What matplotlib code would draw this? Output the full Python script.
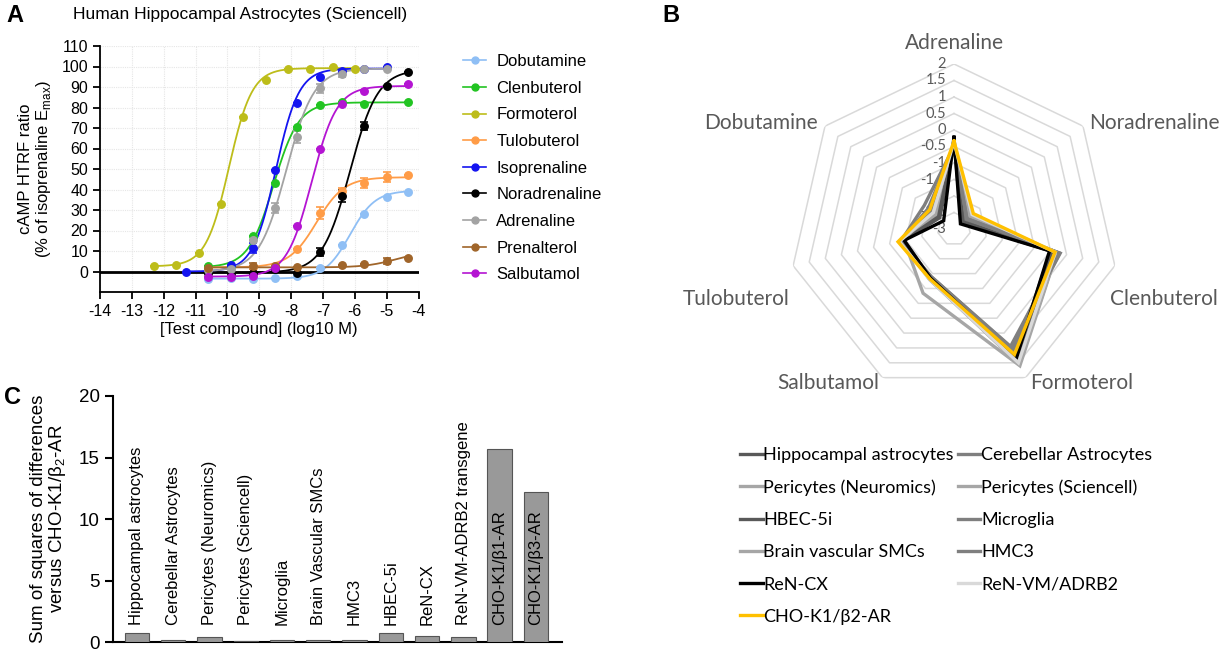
import numpy as np
import matplotlib
matplotlib.use("Agg")
import matplotlib.pyplot as plt
from matplotlib.lines import Line2D

plt.rcParams["axes.unicode_minus"] = False

# ---------------- Panel A data ----------------
compounds = ["Dobutamine", "Clenbuterol", "Formoterol", "Tulobuterol", "Isoprenaline",
             "Noradrenaline", "Adrenaline", "Prenalterol", "Salbutamol"]
colors_a = ["#8fbff5", "#22c422", "#bdbd1a", "#ff9c47", "#1414f0",
            "#000000", "#a3a3a3", "#a0652a", "#b414d2"]

dobutamine_x = [-10.6, -9.9, -9.2, -8.5, -7.8, -7.1, -6.4, -5.7, -5.0, -4.33]
dobutamine_y = [-3.7, -3.3, -3.7, -3.3, -2.4, 1.8, 12.7, 28.0, 36.2, 39.0]
dobutamine_e = [0, 0, 0, 0, 0, 0, 0, 0, 0, 0]

clenbuterol_x = [-10.6, -9.9, -9.2, -8.5, -7.8, -7.1, -6.4, -5.7, -4.33]
clenbuterol_y = [2.6, 2.6, 17.1, 43.2, 70.6, 81.2, 82.8, 81.8, 82.8]
clenbuterol_e = [0, 0, 0, 0, 0, 0, 0, 0, 0]

formoterol_x = [-12.3, -11.6, -10.9, -10.2, -9.5, -8.8, -8.1, -7.4, -6.7, -6.0]
formoterol_y = [2.6, 3.3, 9.1, 32.9, 75.6, 93.2, 98.6, 98.9, 99.8, 98.9]
formoterol_e = [0, 0, 0, 0, 0, 0, 0, 0, 0, 0]

tulobuterol_x = [-10.6, -9.2, -8.5, -7.8, -7.1, -6.4, -5.7, -5.0, -4.33]
tulobuterol_y = [1.0, 2.0, 2.6, 11.2, 28.5, 39.1, 43.2, 46.1, 46.9]
tulobuterol_e = [0, 0, 0, 0, 3.0, 1.5, 2.5, 2.5, 0]

isoprenaline_x = [-11.3, -9.9, -9.2, -8.5, -7.8, -7.1, -6.4, -5.7, -5.0]
isoprenaline_y = [0.0, 3.4, 11.6, 49.4, 82.0, 94.9, 97.8, 98.9, 99.8]
isoprenaline_e = [0, 0, 2.5, 0, 0, 0, 0, 0, 0]

noradrenaline_x = [-10.6, -9.9, -9.2, -8.5, -7.8, -7.1, -6.4, -5.7, -5.0, -4.33]
noradrenaline_y = [-0.8, -0.8, -0.8, 1.3, -0.8, 9.5, 36.7, 70.9, 90.5, 97.1]
noradrenaline_e = [0, 0, 0, 0, 0, 1.8, 3.0, 2.0, 0, 0]

adrenaline_x = [-10.6, -9.9, -9.2, -8.5, -7.8, -7.1, -6.4, -5.7, -5.0]
adrenaline_y = [0.5, 1.0, 15.2, 31.1, 65.7, 89.3, 96.3, 98.9, 99.0]
adrenaline_e = [0, 0, 0, 2.5, 3.0, 2.0, 1.5, 0, 0]

prenalterol_x = [-10.6, -9.2, -8.5, -7.8, -6.4, -5.7, -5.0, -4.33]
prenalterol_y = [1.6, 2.6, 2.6, 2.3, 3.4, 3.7, 5.0, 6.7]
prenalterol_e = [0, 1.5, 0, 0, 0, 0, 1.5, 0]

salbutamol_x = [-10.6, -9.9, -9.2, -8.5, -7.8, -7.1, -6.4, -5.7, -4.33]
salbutamol_y = [-2.5, -2.5, -2.2, 1.5, 22.0, 59.7, 81.5, 88.2, 91.3]
salbutamol_e = [0, 0, 0, 0, 0, 0, 0, 0, 0]

points_x = [dobutamine_x, clenbuterol_x, formoterol_x, tulobuterol_x, isoprenaline_x,
            noradrenaline_x, adrenaline_x, prenalterol_x, salbutamol_x]
points_y = [dobutamine_y, clenbuterol_y, formoterol_y, tulobuterol_y, isoprenaline_y,
            noradrenaline_y, adrenaline_y, prenalterol_y, salbutamol_y]
points_e = [dobutamine_e, clenbuterol_e, formoterol_e, tulobuterol_e, isoprenaline_e,
            noradrenaline_e, adrenaline_e, prenalterol_e, salbutamol_e]

# fitted 4-parameter logistic curves (bottom, top, logEC50, Hill slope)
fit_bottom = [-3.5, 2.0, 2.5, 2.0, 0.0, -0.5, 0.0, 2.0, -2.5]
fit_top = [39.5, 82.5, 99.2, 46.0, 99.0, 98.5, 99.0, 10.0, 90.5]
fit_logec50 = [-6.15, -8.55, -9.95, -7.2, -8.48, -6.15, -8.15, -4.7, -7.35]
fit_hill = [1.1, 1.1, 1.2, 1.0, 1.2, 1.0, 1.0, 0.9, 1.1]

# ---------------- Panel B data ----------------
radar_axes = ["Adrenaline", "Noradrenaline", "Clenbuterol", "Formoterol",
              "Salbutamol", "Tulobuterol", "Dobutamine"]
cell_lines = ["Hippocampal astrocytes", "Cerebellar Astrocytes", "Pericytes (Neuromics)",
              "Pericytes (Sciencell)", "HBEC-5i", "Microglia", "Brain vascular SMCs",
              "HMC3", "ReN-CX", "ReN-VM/ADRB2", "CHO-K1/β2-AR"]
cell_colors = ["#595959", "#7f7f7f", "#a6a6a6", "#a6a6a6", "#595959", "#7f7f7f",
               "#a6a6a6", "#7f7f7f", "#000000", "#d9d9d9", "#ffc000"]
hippocampal_vals = [-0.40, -2.70, 0.00, 1.30, -1.35, -1.40, -2.45]
cerebellar_vals = [-0.50, -2.55, 0.30, 0.95, -1.40, -1.35, -1.85]
pericytes_n_vals = [-0.45, -2.45, 0.20, 1.60, -0.84, -1.45, -2.30]
pericytes_s_vals = [-0.40, -2.40, 0.15, 1.50, -1.30, -1.40, -2.30]
hbec_vals = [-0.35, -2.65, 0.05, 1.40, -1.35, -1.45, -2.40]
microglia_vals = [-0.45, -2.50, 0.25, 1.10, -1.35, -1.40, -2.10]
smc_vals = [-0.40, -2.35, 0.20, 1.55, -1.30, -1.35, -2.20]
hmc3_vals = [-0.50, -2.50, 0.28, 1.00, -1.40, -1.35, -2.00]
rencx_vals = [-0.22, -2.75, -0.03, 1.35, -1.35, -1.45, -2.60]
renvm_vals = [-0.35, -2.30, 0.15, 1.50, -1.30, -1.30, -2.20]
cho_b2_vals = [-0.34, -2.25, 0.14, 1.22, -1.32, -1.26, -2.06]
radar_values = [hippocampal_vals, cerebellar_vals, pericytes_n_vals, pericytes_s_vals,
                hbec_vals, microglia_vals, smc_vals, hmc3_vals, rencx_vals,
                renvm_vals, cho_b2_vals]
radar_ticks = [-3, -2.5, -2, -1.5, -1, -0.5, 0, 0.5, 1, 1.5, 2]

# ---------------- Panel C data ----------------
bar_labels = ["Hippocampal astrocytes", "Cerebellar Astrocytes", "Pericytes (Neuromics)",
              "Pericytes (Sciencell)", "Microglia", "Brain Vascular SMCs", "HMC3",
              "HBEC-5i", "ReN-CX", "ReN-VM-ADRB2 transgene", "CHO-K1/β1-AR",
              "CHO-K1/β3-AR"]
bar_values = [0.73, 0.16, 0.41, 0.14, 0.16, 0.16, 0.22, 0.73, 0.49, 0.41, 15.7, 12.2]

# ======================================================
W, H = 1229, 651
fig = plt.figure(figsize=(W / 100, H / 100), dpi=100)
arial = "Liberation Sans"
calibri = "Lato"


def fx(px):
    return px / W


def fy(py):
    return 1 - py / H


# ---------------- Panel A ----------------
axA = fig.add_axes([fx(100), fy(292), fx(418.5) - fx(100), fy(46) - fy(292)])
for i, name in enumerate(compounds):
    xs = np.array(points_x[i])
    xc = np.linspace(xs.min(), xs.max(), 300)
    yc = fit_bottom[i] + (fit_top[i] - fit_bottom[i]) / (1 + 10 ** ((fit_logec50[i] - xc) * fit_hill[i]))
    axA.plot(xc, yc, color=colors_a[i], lw=1.3, zorder=3)
    axA.errorbar(xs, points_y[i], yerr=points_e[i], fmt="o", ms=5.4, color=colors_a[i],
                 ecolor=colors_a[i], elinewidth=1.2, capsize=3, capthick=1.2, zorder=4)
axA.axhline(0, color="black", lw=2, zorder=2)
axA.set_xlim(-14, -4)
axA.set_ylim(-10, 110)
axA.set_xticks(np.arange(-14, -3, 1))
axA.set_yticks(np.arange(0, 111, 10))
axA.grid(True, color="#e6e6e6", lw=0.8, ls=(0, (1, 1)))
axA.set_axisbelow(True)
for s in ["top", "right"]:
    axA.spines[s].set_visible(False)
for s in ["left", "bottom"]:
    axA.spines[s].set_linewidth(1.3)
axA.tick_params(labelsize=11.5, width=1.3, length=5, direction="out")
for t in axA.get_xticklabels() + axA.get_yticklabels():
    t.set_fontfamily(arial)
axA.set_xlabel("[Test compound] (log10 M)", fontsize=12, family=arial, labelpad=2)
axA.set_ylabel("cAMP HTRF ratio\n(% of isoprenaline E$_{\\mathregular{max}}$)", fontsize=12,
               family=arial, linespacing=1.1, labelpad=6)
fig.text(fx(240), fy(15), "Human Hippocampal Astrocytes (Sciencell)", fontsize=12.5,
         family=arial, ha="center", va="center")
fig.text(fx(6), fy(15), "A", fontsize=17, weight="bold", family=arial, va="center")

handles_a = [Line2D([], [], color=c, marker="o", ms=5, lw=1.2) for c in colors_a]
fig.legend(handles_a, compounds, loc="upper left", bbox_to_anchor=(fx(463), fy(54)),
           frameon=False, prop={"family": arial, "size": 12}, handlelength=1.4,
           handletextpad=0.6, labelspacing=0.70, borderpad=0, borderaxespad=0)

# ---------------- Panel B ----------------
cx, cy, R = 954, 229, 165
axB = fig.add_axes([fx(cx - R), fy(cy + R), fx(2 * R), (2 * R) / H], projection="polar")
axB.set_theta_zero_location("N")
axB.set_theta_direction(-1)
axB.set_ylim(-3, 2)
axB.grid(False)
axB.spines["polar"].set_visible(False)
axB.set_xticks([])
axB.set_yticks([])
axB.patch.set_alpha(0)
theta = np.arange(len(radar_axes)) * 2 * np.pi / len(radar_axes)
theta_c = np.append(theta, theta[0])
for r in radar_ticks[1:]:
    axB.plot(theta_c, [r] * len(theta_c), color="#d9d9d9", lw=1.1, zorder=1)
for r in radar_ticks:
    axB.annotate(f"{r:g}", xy=(0, r), xytext=(-8, 0), textcoords="offset pixels",
                 ha="right", va="center", fontsize=10.5, color="#595959", family=calibri,
                 zorder=2)
for vals, col in zip(radar_values, cell_colors):
    axB.plot(theta_c, vals + vals[:1], color=col, lw=2.4, zorder=3, solid_joinstyle="miter")
lab_cfg = [("center", (0, 21)), ("left", (6, 3)), ("left", (-5, -33)), ("left", (5, -5)),
           ("right", (-3, -5)), ("right", (-4, -33)), ("right", (-7, 3))]
for t, name, (ha, off) in zip(theta, radar_axes, lab_cfg):
    axB.annotate(name, xy=(t, 2), xytext=off, textcoords="offset pixels", ha=ha,
                 va="center", fontsize=15, color="#595959", family=calibri,
                 annotation_clip=False)
fig.text(fx(662), fy(15), "B", fontsize=17, weight="bold", family=arial, va="center")

handles_b = [Line2D([], [], color=c, lw=2.4) for c in cell_colors]
order = [0, 2, 4, 6, 8, 10, 1, 3, 5, 7, 9]
fig.legend([handles_b[i] for i in order], [cell_lines[i] for i in order], ncol=2,
           loc="upper left", bbox_to_anchor=(fx(740), fy(447)), frameon=False,
           prop={"family": calibri, "size": 13}, handlelength=1.25, handletextpad=0.05,
           columnspacing=0.2, labelspacing=0.9, borderpad=0, borderaxespad=0)

# ---------------- Panel C ----------------
axC = fig.add_axes([fx(113), fy(642.3), fx(562) - fx(113), fy(396) - fy(642.3)])
xpos = np.arange(len(bar_labels))
axC.bar(xpos, bar_values, width=0.67, color="#999999", edgecolor="#555555", lw=0.8,
        zorder=3)
for x, lab in zip(xpos, bar_labels):
    axC.text(x, 1.4, lab, rotation=90, ha="center", va="bottom", fontsize=12, family=arial,
             zorder=4)
axC.set_xlim(-0.66, len(bar_labels) - 0.28)
axC.set_ylim(0, 20)
axC.set_yticks([0, 5, 10, 15, 20])
axC.set_xticks([])
for s in ["top", "right"]:
    axC.spines[s].set_visible(False)
for s in ["left", "bottom"]:
    axC.spines[s].set_linewidth(1.5)
axC.tick_params(axis="y", labelsize=13.5, width=1.5, length=6)
for t in axC.get_yticklabels():
    t.set_fontfamily(arial)
axC.set_ylabel("Sum of squares of differences\nversus CHO-K1/β$_{\\mathregular{2}}$-AR",
               fontsize=13.5, family=arial, linespacing=1.0, labelpad=8)
fig.text(fx(4), fy(398), "C", fontsize=17, weight="bold", family=arial, va="center")

fig.savefig("out.png", dpi=100)
